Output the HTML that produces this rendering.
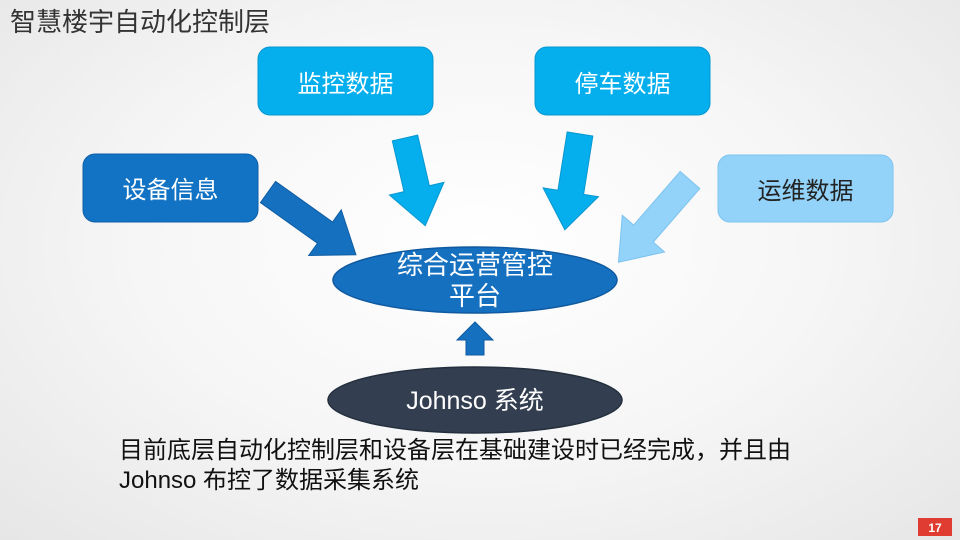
<!DOCTYPE html>
<html><head><meta charset="utf-8"><style>
html,body{margin:0;padding:0;}
body{width:960px;height:540px;overflow:hidden;position:relative;font-family:"Liberation Sans","Noto Sans CJK SC",sans-serif;
background:radial-gradient(ellipse at 50% 45%,#ffffff 0%,#f6f6f6 50%,#e6e6e6 100%);}
svg{position:absolute;left:0;top:0;}
</style></head><body>
<svg width="960" height="540" viewBox="0 0 960 540" font-family="Liberation Sans, Noto Sans CJK SC, sans-serif">
<text x="10" y="31" font-size="26" fill="#333">智慧楼宇自动化控制层</text>
<g>
<rect x="83" y="154" width="175" height="68" rx="12" fill="#1273c4" stroke="#0e5fa6"/>
<text x="170.5" y="198" font-size="24" fill="#fff" text-anchor="middle">设备信息</text>
<rect x="258" y="47" width="175" height="68" rx="12" fill="#05aeec" stroke="#0897cf"/>
<text x="345.5" y="92" font-size="24" fill="#fff" text-anchor="middle">监控数据</text>
<rect x="535" y="47" width="175" height="68" rx="12" fill="#05aeec" stroke="#0897cf"/>
<text x="622.5" y="92" font-size="24" fill="#fff" text-anchor="middle">停车数据</text>
<rect x="718" y="155" width="175" height="67" rx="12" fill="#93d3fa" stroke="#7cc3ef"/>
<text x="805.5" y="199" font-size="24" fill="#222" text-anchor="middle">运维数据</text>
</g>
<g stroke-width="1">
<polygon transform="translate(268,192) rotate(35.5)" points="0,-13 70,-13 70,-28 108,0 70,28 70,13 0,13" fill="#1570c0" stroke="#0f5da3"/>
<polygon transform="translate(405,138) rotate(77)" points="0,-13 52,-13 52,-28 90,0 52,28 52,13 0,13" fill="#05aeec" stroke="#0897cf"/>
<polygon transform="translate(580,134) rotate(99)" points="0,-13 59,-13 59,-28 97,0 59,28 59,13 0,13" fill="#05aeec" stroke="#0897cf"/>
<polygon transform="translate(690,180) rotate(131)" points="0,-13 71,-13 71,-28 109,0 71,28 71,13 0,13" fill="#93d3fa" stroke="#7cc3ef"/>
</g>
<ellipse cx="475" cy="280" rx="142" ry="33" fill="#1570c0" stroke="#0f5aa0" stroke-width="1.5"/>
<text x="475" y="274" font-size="26" fill="#fff" text-anchor="middle">综合运营管控</text>
<text x="475" y="305" font-size="26" fill="#fff" text-anchor="middle">平台</text>
<polygon points="466,355 484,355 484,340 493,340 475,322 457,340 466,340" fill="#1570c0" stroke="#0f5aa0"/>
<ellipse cx="475" cy="400" rx="147" ry="33" fill="#333f50" stroke="#24303e" stroke-width="1.5"/>
<text x="475" y="409" font-size="25" fill="#fff" text-anchor="middle">Johnso 系统</text>
<text x="119" y="458" font-size="24" fill="#111">目前底层自动化控制层和设备层在基础建设时已经完成，并且由</text>
<text x="119" y="488" font-size="24" fill="#111">Johnso 布控了数据采集系统</text>
<rect x="918" y="518" width="34" height="18" fill="#e03c31"/>
<text x="935" y="532" font-size="12" fill="#fff" text-anchor="middle" font-weight="bold">17</text>
</svg>
</body></html>
